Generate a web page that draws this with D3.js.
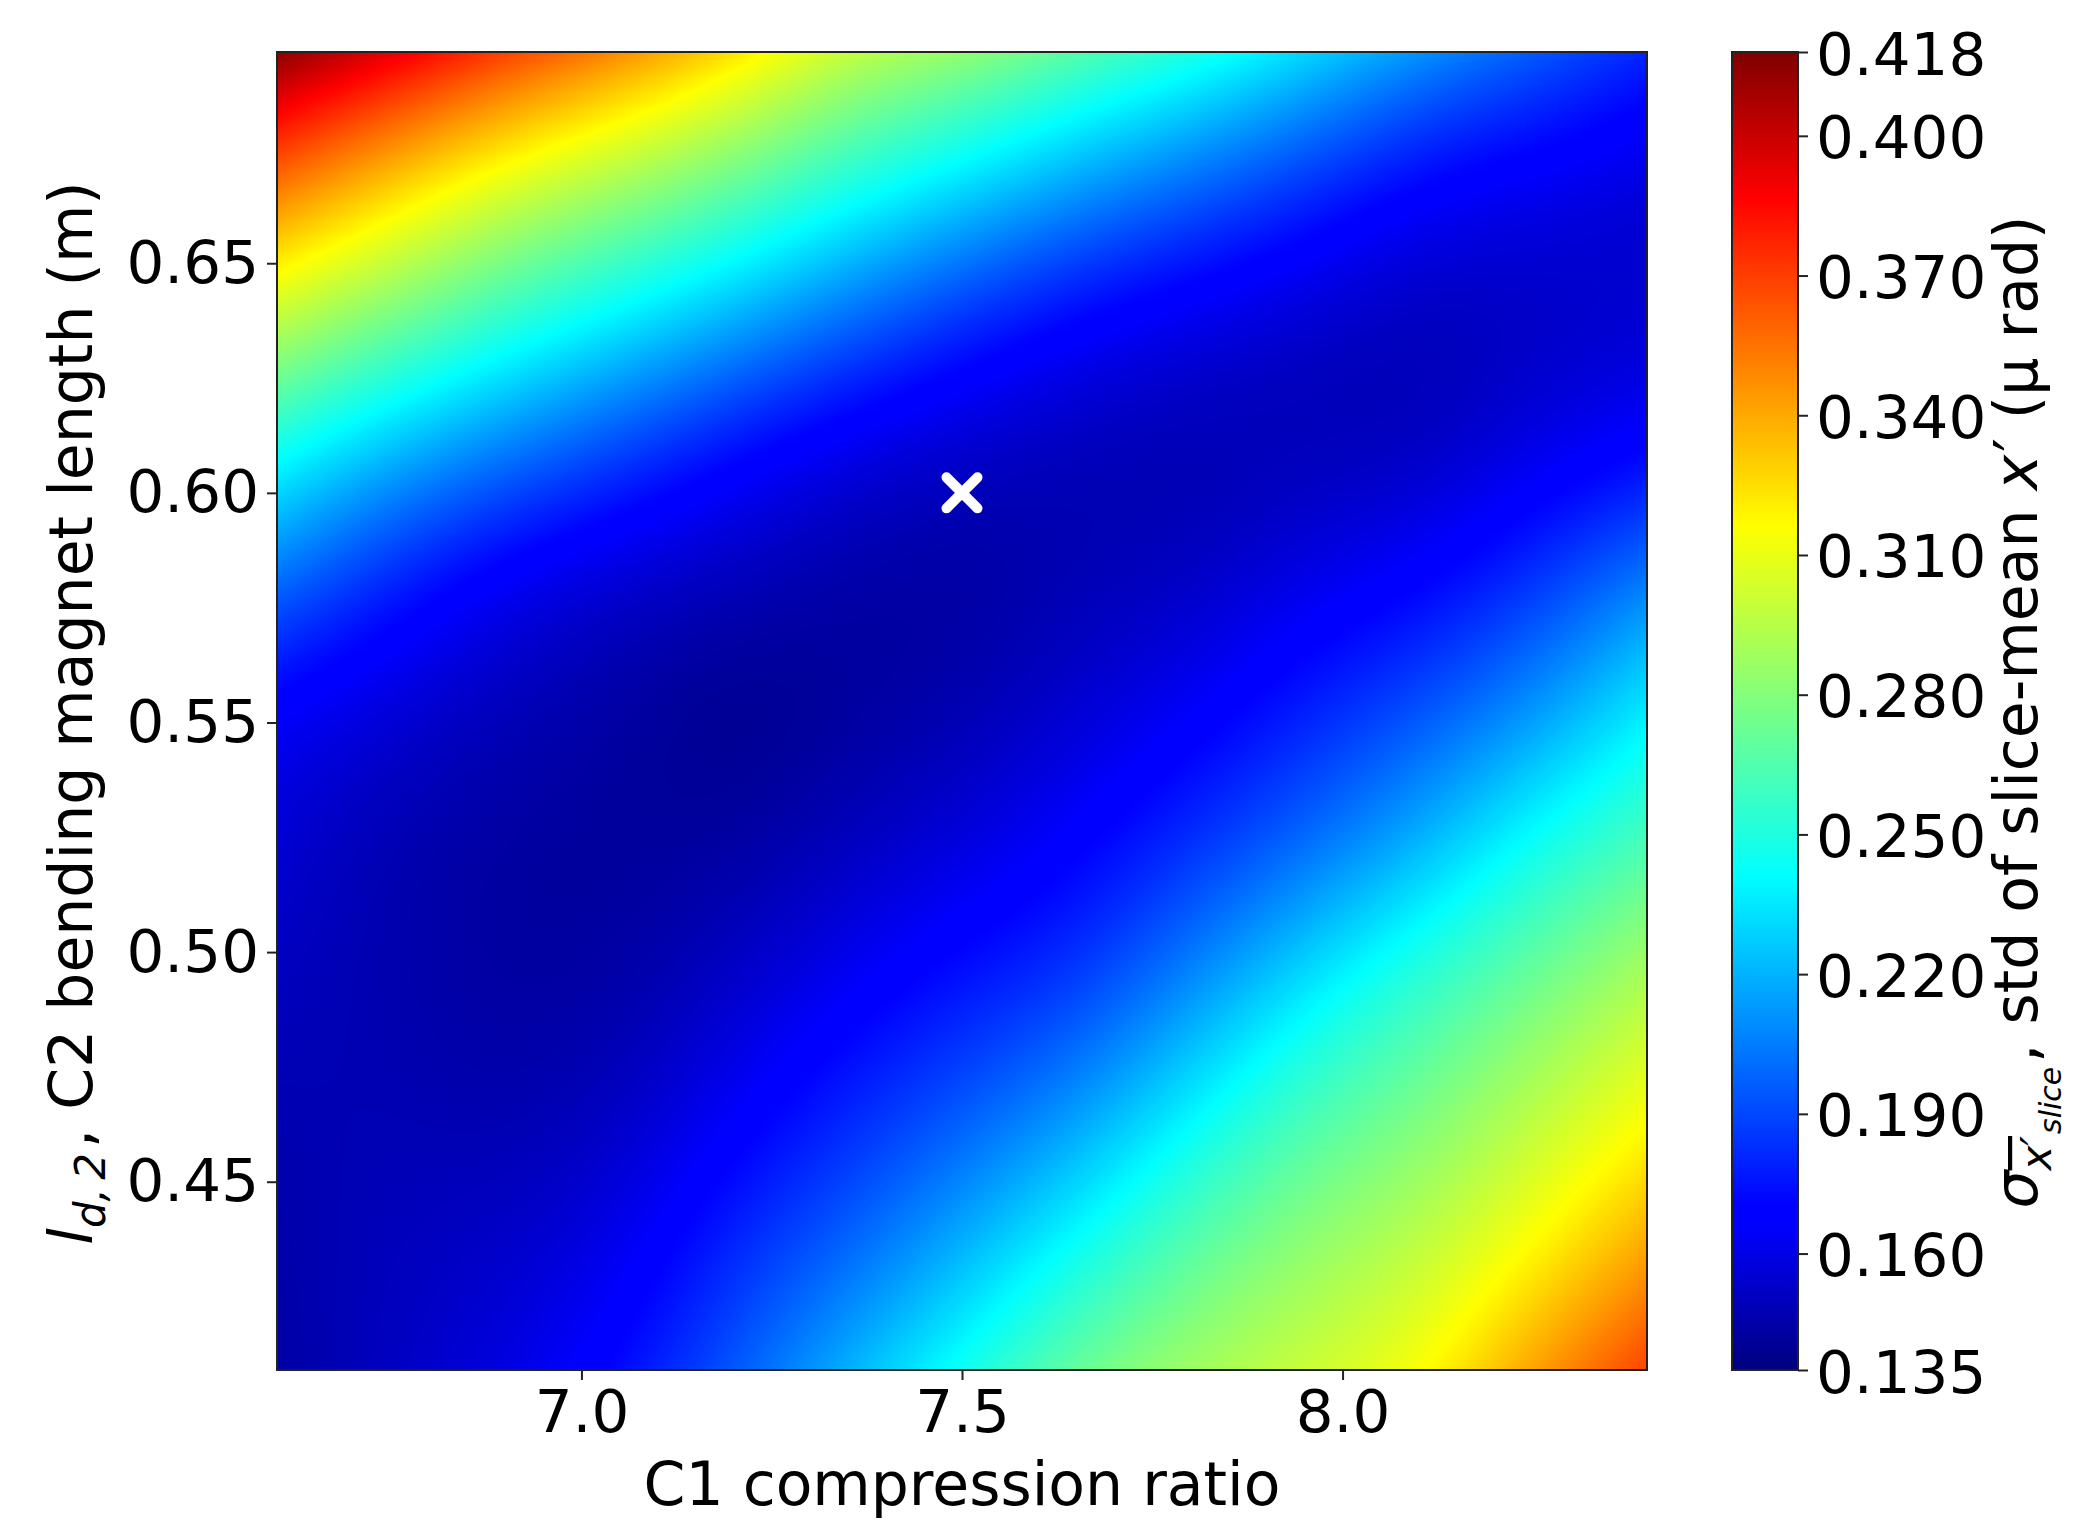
<!DOCTYPE html>
<html>
<head>
<meta charset="utf-8">
<script src="https://cdn.jsdelivr.net/npm/d3@7"></script>
<style>
  html, body { margin: 0; padding: 0; background: #fff; }
  text { font-family: "DejaVu Sans", sans-serif; fill: #000; }
  .tick text { font-size: 59.5px; }
  .label { font-size: 60px; }
</style>
</head>
<body>
<div id="chart"></div>
<script>
// grid the map was read on
const xValues = [6.6, 6.75, 6.9, 7.05, 7.2, 7.35, 7.5, 7.65, 7.8, 7.95, 8.1, 8.25, 8.4];
const yValues = [0.696, 0.667, 0.638, 0.610, 0.581, 0.552, 0.523, 0.495, 0.466, 0.437, 0.409];

// std of slice-mean x', one list per x value, top row first
const col660 = [0.415, 0.354, 0.298, 0.245, 0.200, 0.162, 0.155, 0.150, 0.147, 0.145, 0.144];
const col675 = [0.392, 0.329, 0.277, 0.222, 0.177, 0.155, 0.146, 0.146, 0.148, 0.150, 0.151];
const col690 = [0.368, 0.305, 0.255, 0.205, 0.160, 0.148, 0.142, 0.142, 0.145, 0.152, 0.158];
const col705 = [0.348, 0.288, 0.238, 0.188, 0.152, 0.143, 0.141, 0.143, 0.150, 0.160, 0.171];
const col720 = [0.325, 0.270, 0.220, 0.170, 0.148, 0.136, 0.142, 0.152, 0.164, 0.180, 0.194];
const col735 = [0.295, 0.250, 0.200, 0.158, 0.143, 0.141, 0.150, 0.163, 0.179, 0.196, 0.219];
const col750 = [0.285, 0.232, 0.182, 0.151, 0.141, 0.146, 0.157, 0.174, 0.193, 0.217, 0.245];
const col765 = [0.265, 0.214, 0.167, 0.147, 0.147, 0.155, 0.167, 0.183, 0.210, 0.242, 0.272];
const col780 = [0.250, 0.198, 0.159, 0.145, 0.150, 0.164, 0.182, 0.206, 0.237, 0.267, 0.288];
const col795 = [0.230, 0.183, 0.152, 0.147, 0.160, 0.178, 0.198, 0.232, 0.262, 0.283, 0.300];
const col810 = [0.210, 0.166, 0.147, 0.148, 0.167, 0.192, 0.218, 0.255, 0.275, 0.295, 0.312];
const col825 = [0.195, 0.160, 0.150, 0.158, 0.183, 0.210, 0.246, 0.272, 0.295, 0.314, 0.342];
const col840 = [0.180, 0.155, 0.153, 0.166, 0.205, 0.237, 0.262, 0.292, 0.312, 0.338, 0.368];
const columns = [col660, col675, col690, col705, col720, col735, col750, col765, col780, col795, col810, col825, col840];

const xTicks = [7.0, 7.5, 8.0];
const yTicks = [0.45, 0.50, 0.55, 0.60, 0.65];
const colorTicks = [0.135, 0.160, 0.190, 0.220, 0.250, 0.280, 0.310, 0.340, 0.370, 0.400, 0.418];
const marker = [[7.5, 0.60]];

const vMin = 0.135, vMax = 0.418;
// jet stops, as fractions of the colour range
const jetStops = [0, 0.11, 0.125, 0.375, 0.64, 0.89, 1];
const jetColors = ["#000080", "#0000ff", "#0000ff", "#00ffff", "#ffff00", "#ff0000", "#800000"];

const w = 2091, h = 1536;
const plotLeft = 277, plotRight = 1647, plotTop = 52, plotBottom = 1370;
const barLeft = 1732, barRight = 1798;
const dark = "#222";

const x = d3.scaleLinear().domain([6.6, 8.4]).range([plotLeft, plotRight]);
const y = d3.scaleLinear().domain([0.409, 0.696]).range([plotBottom, plotTop]);
const barScale = d3.scaleLinear().domain([vMin, vMax]).range([plotBottom, plotTop]);
const color = d3.scaleLinear()
  .domain(jetStops.map(s => vMin + s * (vMax - vMin)))
  .range(jetColors)
  .clamp(true);

const svg = d3.select("#chart").append("svg")
  .attr("width", w)
  .attr("height", h)
  .style("display", "block");

// value map is painted on a canvas and smoothed like imshow, then placed through the scales
function paintMap() {
  let cw = Math.round(x(8.4) - x(6.6)), ch = Math.round(y(0.409) - y(0.696));
  let canvas = document.createElement("canvas");
  canvas.width = cw;
  canvas.height = ch;
  let ctx = canvas.getContext("2d");
  let img = ctx.createImageData(cw, ch);
  let lut = d3.range(1024).map(i => d3.rgb(color(vMin + (i / 1023) * (vMax - vMin))));
  let rows = d3.transpose(columns).map(r => d3.interpolateBasis(r));
  for (let i = 0; i < cw; i++) {
    let u = i / (cw - 1);
    let across = d3.interpolateBasis(rows.map(r => r(u)));
    for (let j = 0; j < ch; j++) {
      let v = across(j / (ch - 1));
      let k = Math.max(0, Math.min(1023, Math.round((v - vMin) / (vMax - vMin) * 1023)));
      let c = lut[k], p = (j * cw + i) * 4;
      img.data[p] = c.r;
      img.data[p + 1] = c.g;
      img.data[p + 2] = c.b;
      img.data[p + 3] = 255;
    }
  }
  ctx.putImageData(img, 0, 0);
  return canvas.toDataURL();
}

svg.append("image")
  .attr("x", x(xValues[0]))
  .attr("y", y(yValues[0]))
  .attr("width", x(xValues[xValues.length - 1]) - x(xValues[0]))
  .attr("height", y(yValues[yValues.length - 1]) - y(yValues[0]))
  .attr("preserveAspectRatio", "none")
  .attr("href", paintMap());

svg.append("rect")
  .attr("x", plotLeft)
  .attr("y", plotTop)
  .attr("width", plotRight - plotLeft)
  .attr("height", plotBottom - plotTop)
  .attr("fill", "none")
  .attr("stroke", dark)
  .attr("stroke-width", 2);

svg.selectAll(".marker").data(marker).enter().append("path")
  .attr("class", "marker")
  .attr("transform", d => "translate(" + x(d[0]) + "," + y(d[1]) + ")")
  .attr("d", "M-15.5,-15.5L15.5,15.5M-15.5,15.5L15.5,-15.5")
  .attr("stroke", "#fff")
  .attr("stroke-width", 10)
  .attr("stroke-linecap", "round")
  .attr("fill", "none");

const xAxis = d3.axisBottom(x).tickValues(xTicks).tickSize(10).tickSizeOuter(0).tickPadding(10).tickFormat(d3.format(".1f"));
const yAxis = d3.axisLeft(y).tickValues(yTicks).tickSize(10).tickSizeOuter(0).tickPadding(8).tickFormat(d3.format(".2f"));
const barAxis = d3.axisRight(barScale).tickValues(colorTicks).tickSize(10).tickSizeOuter(0).tickPadding(8).tickFormat(d3.format(".3f"));

function styleAxis(g) {
  g.select(".domain").remove();
  g.selectAll(".tick line").attr("stroke", dark).attr("stroke-width", 2);
  g.selectAll(".tick text").style("font-family", "'DejaVu Sans'");
}

svg.append("g").attr("transform", "translate(0," + plotBottom + ")").call(xAxis).call(styleAxis);
svg.append("g").attr("transform", "translate(" + plotLeft + ",0)").call(yAxis).call(styleAxis);

// colour bar
const grad = svg.append("defs").append("linearGradient")
  .attr("id", "jet")
  .attr("x1", 0).attr("y1", 1).attr("x2", 0).attr("y2", 0);
grad.selectAll("stop").data(jetStops).enter().append("stop")
  .attr("offset", d => d)
  .attr("stop-color", (d, i) => jetColors[i]);

svg.append("rect")
  .attr("x", barLeft)
  .attr("y", barScale(vMax))
  .attr("width", barRight - barLeft)
  .attr("height", barScale(vMin) - barScale(vMax))
  .attr("fill", "url(#jet)")
  .attr("stroke", dark)
  .attr("stroke-width", 2);

svg.append("g").attr("transform", "translate(" + barRight + ",0)").call(barAxis).call(styleAxis)
  .selectAll(".tick text").attr("dy", "0.37em");

// axis titles
svg.append("text")
  .attr("class", "label")
  .attr("x", (plotLeft + plotRight) / 2)
  .attr("y", 1505)
  .attr("text-anchor", "middle")
  .text("C1 compression ratio");

const yLabel = svg.append("text")
  .attr("class", "label")
  .attr("transform", "translate(92,713) rotate(-90)")
  .attr("text-anchor", "middle");
yLabel.append("tspan").style("font-style", "italic").text("l");
yLabel.append("tspan").style("font-style", "italic").attr("font-size", 42).attr("dy", 13).text("d,\u20092");
yLabel.append("tspan").attr("dy", -13).attr("dx", 5).text(", C2 bending magnet length (m)");

const barLabel = svg.append("text")
  .attr("class", "label")
  .attr("transform", "translate(2037,712) rotate(-90)")
  .attr("text-anchor", "middle");
barLabel.append("tspan").style("font-style", "italic").text("σ");
barLabel.append("tspan").style("font-style", "italic").style("text-decoration", "overline")
  .attr("font-size", 42).attr("dy", 14).text("x\u2032");
barLabel.append("tspan").style("font-style", "italic").attr("font-size", 30).attr("dy", 10).attr("dx", 2).text("slice");
barLabel.append("tspan").attr("dy", -24).attr("dx", 4).text(", std of slice-mean ");
barLabel.append("tspan").style("font-style", "italic").text("x");
barLabel.append("tspan").attr("dx", 3).text("\u2032 (µ rad)");
</script>
</body>
</html>
